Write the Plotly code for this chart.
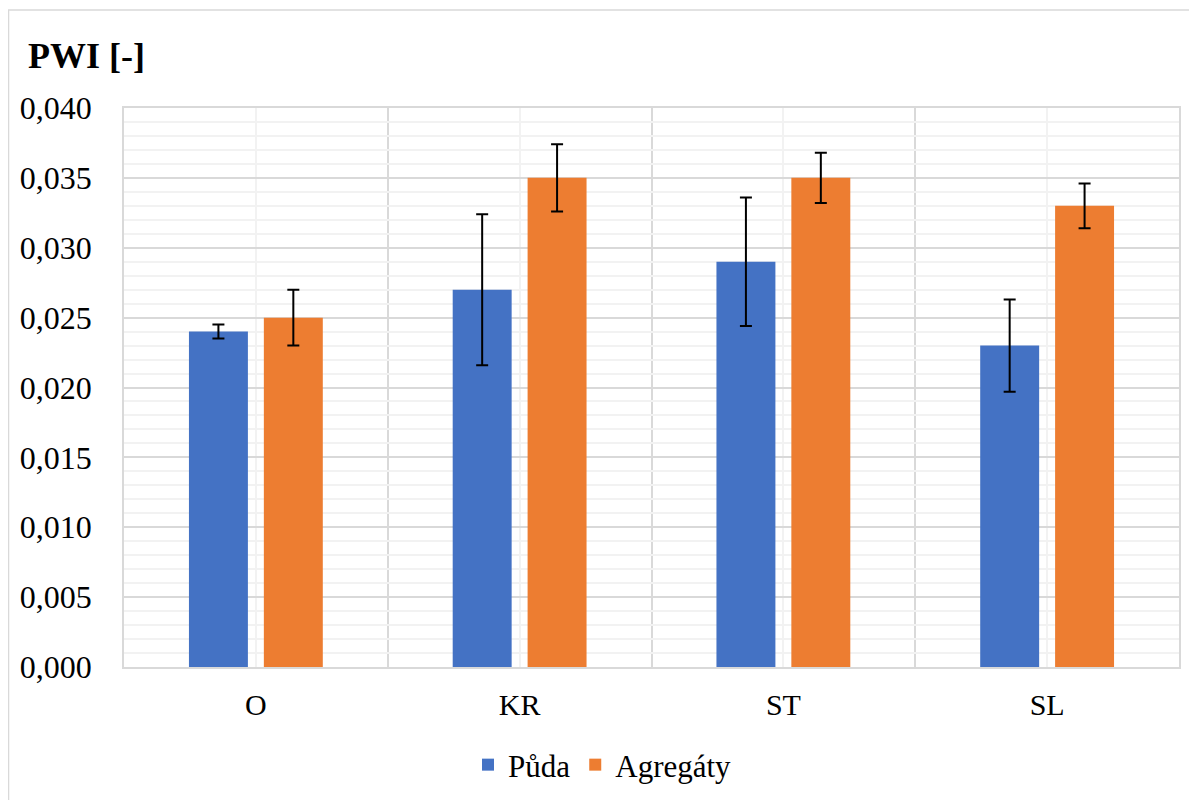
import plotly.graph_objects as go

categories = ["O", "KR", "ST", "SL"]
puda = [0.024, 0.027, 0.029, 0.023]
puda_err = [0.0005, 0.0054, 0.0046, 0.0033]
agregaty = [0.025, 0.035, 0.035, 0.033]
agregaty_err = [0.002, 0.0024, 0.0018, 0.0016]
series_names = ["Půda", "Agregáty"]

OFF = 8  # default page body margin
W, H = 1197 - OFF, 800 - OFF
L, R, T, B = 124 - OFF, 1179 - OFF, 108 - OFF, 667 - OFF
pw, ph = R - L, B - T

xpos = list(range(len(categories)))
bounds = [i - 0.5 for i in range(len(categories) + 1)]

fig = go.Figure()
fig.add_trace(go.Bar(
    x=xpos, y=puda, name=series_names[0],
    marker=dict(color="#4472C4", line=dict(width=0)),
    error_y=dict(type="data", array=puda_err, visible=True,
                 color="black", thickness=2, width=6),
))
fig.add_trace(go.Bar(
    x=xpos, y=agregaty, name=series_names[1],
    marker=dict(color="#ED7D31", line=dict(width=0)),
    error_y=dict(type="data", array=agregaty_err, visible=True,
                 color="black", thickness=2, width=6),
))

font_family = "Liberation Serif"

fig.update_layout(
    width=W, height=H,
    margin=dict(l=L, r=W - R, t=T, b=H - B, autoexpand=False),
    paper_bgcolor="white", plot_bgcolor="white",
    barmode="group", bargap=0.432, bargroupgap=0.213,
    separators=", ",
    font=dict(family=font_family, color="black", size=31),
    title=dict(text="<b>PWI [-]</b>", x=(28 - OFF) / W, xref="container", xanchor="left",
               y=1 - (55 - OFF) / H, yref="container", yanchor="middle",
               font=dict(family=font_family, size=36, color="black")),
    showlegend=True,
    legend=dict(orientation="h", xref="paper", yref="paper",
                x=(468 - 124) / pw, xanchor="left",
                y=(667 - 765) / ph, yanchor="middle",
                font=dict(family=font_family, size=31, color="black"),
                itemwidth=30, traceorder="normal"),
    shapes=[dict(type="rect", xref="paper", yref="paper",
                 x0=(8 - 124) / pw + 0.0005, x1=(1205 - 124) / pw,
                 y0=(667 - 805) / ph, y1=(667 - 10) / ph,
                 line=dict(color="#D9D9D9", width=1.5), fillcolor="rgba(0,0,0,0)",
                 layer="below")],
)

fig.update_xaxes(
    range=[-0.5, len(categories) - 0.5],
    tickmode="array", tickvals=xpos, ticktext=categories,
    showgrid=True, gridcolor="#F2F2F2", gridwidth=2,
    minor=dict(tickmode="array", tickvals=bounds, showgrid=True,
               gridcolor="#D9D9D9", gridwidth=1.5),
    showline=True, linecolor="#D9D9D9", linewidth=1.5, mirror=True,
    ticks="", ticklabelstandoff=10, zeroline=False,
    tickfont=dict(family=font_family, size=30, color="black"),
)
fig.update_yaxes(
    range=[0, 0.04], dtick=0.005, tick0=0, tickformat=".3f",
    showgrid=True, gridcolor="#D9D9D9", gridwidth=1.5,
    minor=dict(dtick=0.001, showgrid=True, gridcolor="#F2F2F2", gridwidth=1.5),
    showline=True, linecolor="#D9D9D9", linewidth=1.5, mirror=True,
    ticks="", ticklabelstandoff=24, zeroline=False,
    tickfont=dict(family=font_family, size=32, color="black"),
)

fig.write_html("out.html")
